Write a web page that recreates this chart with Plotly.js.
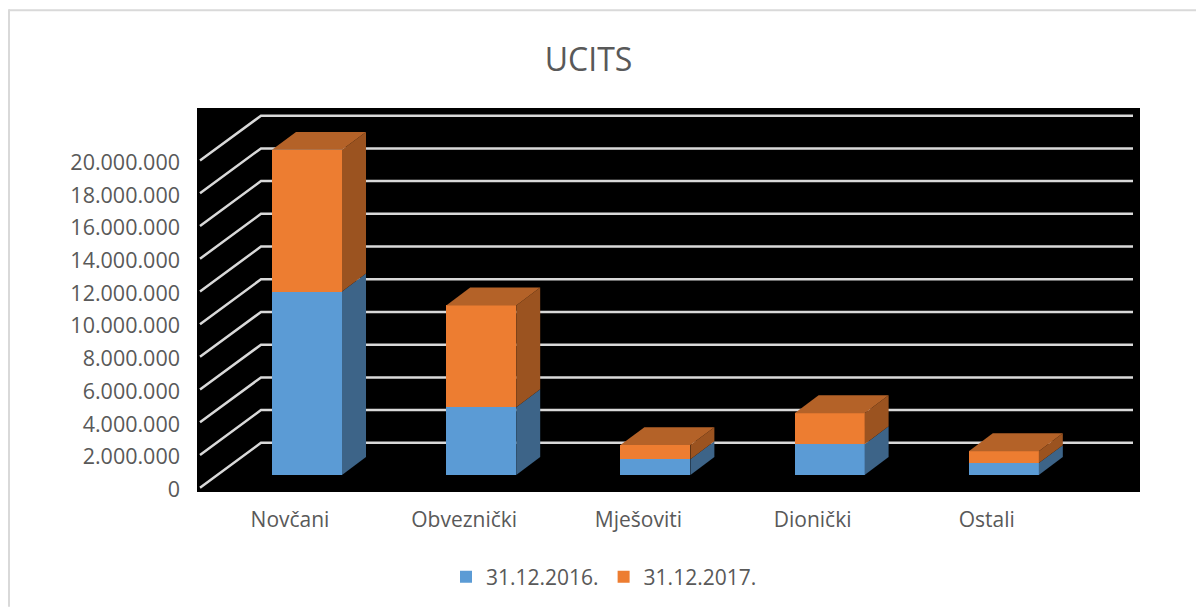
<!DOCTYPE html>
<html><head><meta charset="utf-8">
<script src="https://cdn.plot.ly/plotly-3.0.1.min.js"></script>
<style>html,body{margin:0;padding:0;background:#fff;overflow:hidden}#c{width:1196px;height:608px}</style>
</head><body><div id="c"></div>
<script>
const categories = ['Novčani','Obveznički','Mješoviti','Dionički','Ostali'];
const series2016 = [11220000, 4150000, 970000, 1890000, 730000];
const series2017 = [8660000, 6220000, 860000, 1890000, 730000];
const yTicks = [0,2000000,4000000,6000000,8000000,10000000,12000000,14000000,16000000,18000000,20000000];
const seriesNames = ['31.12.2016.','31.12.2017.'];

const W=1196,H=608,L=197,R=1140,T=108,B=493;
const catPx=174.2, labelX0=290, barX0=307;
const pxPerUnit=16.4/1e6;
const labelY0=490.5, barY0=476;
const xOf=(px,x0)=>(px-x0)/catPx;
const FONT='"Open Sans", sans-serif', TXT='#595959';

// wall grid: oblique floor-side segment + back-wall line for every tick
const gx=[],gy=[];
yTicks.forEach(t=>{
  gx.push(xOf(200,labelX0),xOf(261,labelX0),xOf(1133,labelX0),null);
  gy.push(t+1.8/pxPerUnit,t+46.8/pxPerUnit,t+46.8/pxPerUnit,null);
});

const barW=70/catPx, dx=24/catPx, dy=18/pxPerUnit;
function poly(pts,color){
  const xs=[],ys=[];
  pts.forEach(p=>{xs.push(p[0]);ys.push(p[1]);});
  xs.push(pts[0][0]);ys.push(pts[0][1]);
  return {x:xs,y:ys,xaxis:'x2',yaxis:'y2',mode:'lines',fill:'toself',fillcolor:color,
    line:{width:0,color:color},showlegend:false,hoverinfo:'skip',type:'scatter'};
}
const faces=[];
categories.forEach((c,i)=>{
  const a=series2016[i], b=a+series2017[i];
  const xr=i+barW/2, xl=i-barW/2;
  faces.push(poly([[xr,0],[xr+dx,dy],[xr+dx,a+dy],[xr,a]],'#3d6488'));
  faces.push(poly([[xr,a],[xr+dx,a+dy],[xr+dx,b+dy],[xr,b]],'#9b5320'));
  faces.push(poly([[xl,b],[xr,b],[xr+dx,b+dy],[xl+dx,b+dy]],'#b46228'));
});

const idx=categories.map((c,i)=>i);
const traces=[
  {type:'scatter',mode:'lines',x:gx,y:gy,xaxis:'x',yaxis:'y',line:{color:'#d9d9d9',width:2.5},showlegend:false,hoverinfo:'skip'},
  {type:'bar',name:seriesNames[0],x:idx,y:series2016,width:barW,xaxis:'x2',yaxis:'y2',marker:{color:'#5b9bd5',line:{width:0}}},
  {type:'bar',name:seriesNames[1],x:idx,y:series2017,width:barW,xaxis:'x2',yaxis:'y2',marker:{color:'#ed7d31',line:{width:0}}},
  ...faces
];
const px=(p)=>(p-L)/(R-L), py=(p)=>(B-p)/(B-T);
const layout={
  width:W,height:H,autosize:false,
  margin:{l:L,r:W-R,t:T,b:H-B,pad:0},
  paper_bgcolor:'#ffffff',plot_bgcolor:'#000000',
  separators:',.',
  barmode:'stack',
  title:{text:'UCITS',x:588.5/W,xanchor:'center',y:1-60/H,yanchor:'middle',font:{family:FONT,size:32,color:TXT}},
  font:{family:FONT,size:21,color:TXT},
  xaxis:{range:[xOf(L,labelX0),xOf(R,labelX0)],tickmode:'array',tickvals:idx,ticktext:categories,
    showgrid:false,zeroline:false,showline:false,ticks:'',ticklabelstandoff:13,tickfont:{family:FONT,size:21,color:TXT}},
  yaxis:{range:[(labelY0-B)/pxPerUnit,(labelY0-T)/pxPerUnit],tickmode:'array',tickvals:yTicks,
    tickformat:',d',showgrid:false,zeroline:false,showline:false,ticks:'',ticklabelstandoff:16,tickfont:{family:FONT,size:21.5,color:TXT}},
  xaxis2:{overlaying:'x',anchor:'y2',visible:false,range:[xOf(L,barX0),xOf(R,barX0)]},
  yaxis2:{overlaying:'y',anchor:'x2',visible:false,range:[(barY0-B)/pxPerUnit,(barY0-T)/pxPerUnit]},
  legend:{orientation:'h',x:px(604),xanchor:'center',y:py(577),yanchor:'middle',font:{family:FONT,size:21,color:TXT},bgcolor:'rgba(0,0,0,0)',traceorder:'normal'},
  shapes:[
    {type:'line',xref:'paper',yref:'paper',x0:px(9),x1:px(1196),y0:py(10),y1:py(10),line:{color:'#d9d9d9',width:2}},
    {type:'line',xref:'paper',yref:'paper',x0:px(9),x1:px(9),y0:py(9),y1:py(608),line:{color:'#d9d9d9',width:2}}
  ]
};
Plotly.newPlot('c',traces,layout,{displayModeBar:false,responsive:false});
</script></body></html>
